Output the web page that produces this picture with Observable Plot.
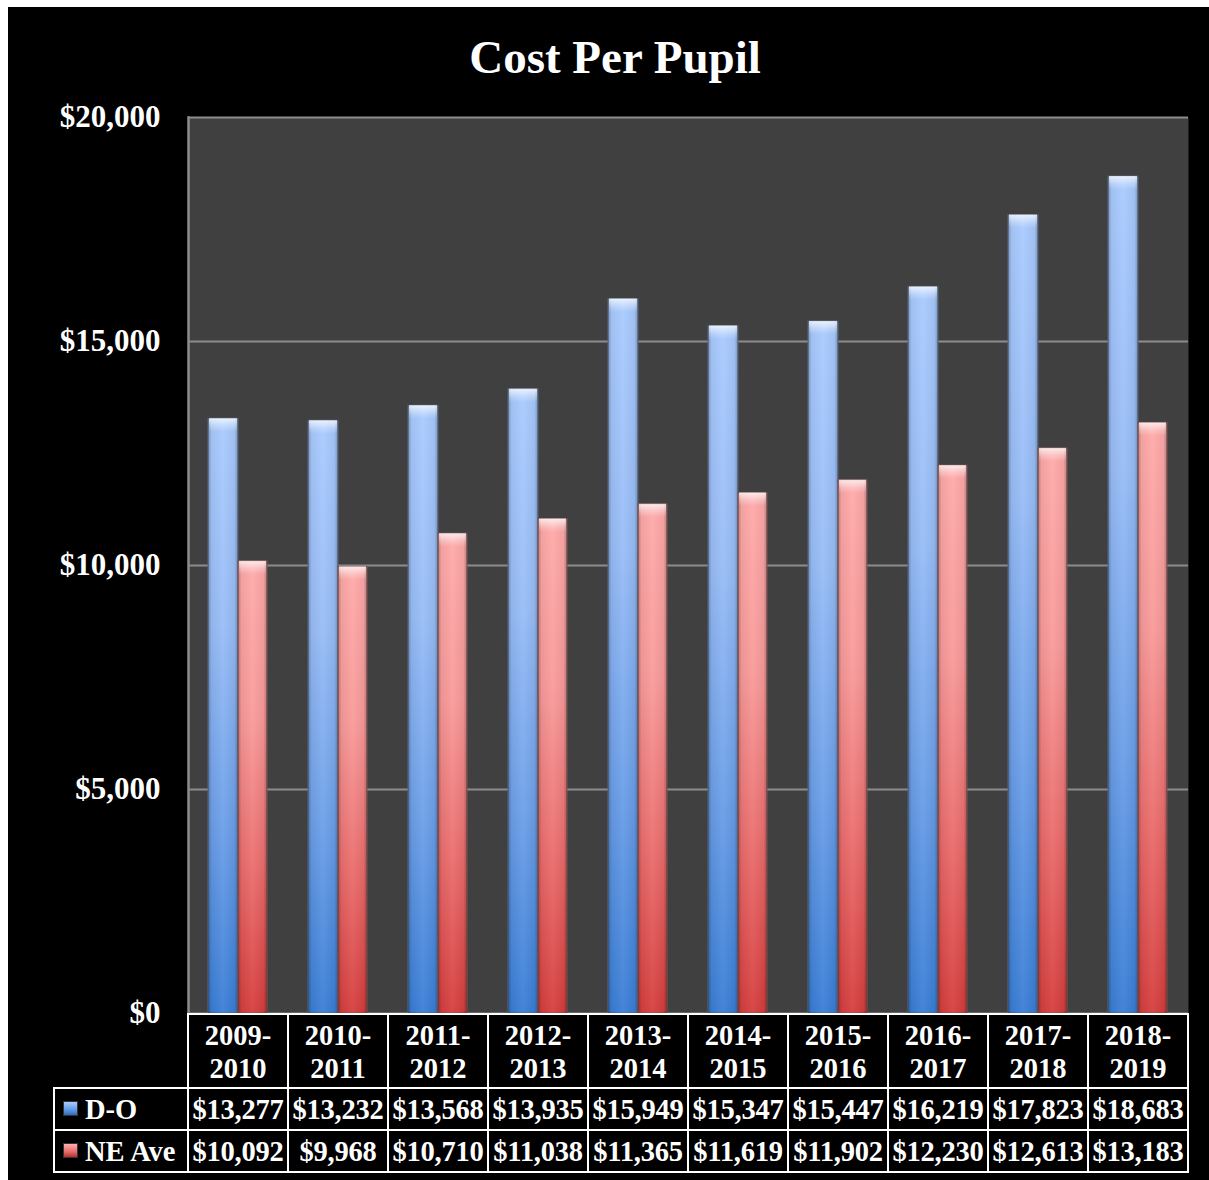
<!DOCTYPE html>
<html>
<head>
<meta charset="utf-8">
<script src="https://cdn.jsdelivr.net/npm/d3@7"></script>
<script src="https://cdn.jsdelivr.net/npm/@observablehq/plot@0.6"></script>
<style>
  html, body { margin: 0; padding: 0; background: #ffffff; overflow: hidden; }
  #stage { position: relative; width: 1209px; height: 1180px; }
  #bg { position: absolute; left: 8px; top: 7px; right: 0; bottom: 0; background: #000; }
  #title { position: absolute; left: 0; width: 1230px; top: 34px; text-align: center;
    font-family: "Liberation Serif", "Times New Roman", serif; font-weight: bold; font-size: 47px;
    line-height: 47px; color: #fff; white-space: nowrap; }
  .cell { position: absolute; box-sizing: border-box; border: 2px solid #fff; background: #000;
    color: #fff; font-family: "Liberation Serif", "Times New Roman", serif; font-weight: bold;
    font-size: 28.5px; text-align: center; white-space: nowrap; overflow: visible; }
  .hdr { line-height: 33px; padding-top: 4px; }
  .val { line-height: 40px; padding-top: 1px; letter-spacing: -0.2px; }
  .leg { text-align: left; line-height: 40px; padding-top: 1px; }
  .sw { position: absolute; left: 8px; width: 15px; height: 15px; box-sizing: border-box; border: 1px solid #333; }
</style>
</head>
<body>
<div id="stage">
  <div id="bg"></div>
  <div id="title"></div>
</div>
<script>
// ---- data ----
const title = "Cost Per Pupil";
const years = ["2009-2010","2010-2011","2011-2012","2012-2013","2013-2014","2014-2015","2015-2016","2016-2017","2017-2018","2018-2019"];
const seriesNames = ["D-O", "NE Ave"];
const doValues = [13277, 13232, 13568, 13935, 15949, 15347, 15447, 16219, 17823, 18683];
const neValues = [10092, 9968, 10710, 11038, 11365, 11619, 11902, 12230, 12613, 13183];
const yTicks = [0, 5000, 10000, 15000, 20000];

const rows = years.map((y, i) => ({year: y, do: doValues[i], ne: neValues[i]}));
const fmt = d => "$" + d3.format(",")(d);

document.getElementById("title").textContent = title;

const W = 1209, H = 1180;
const capUnits = 300; // highlight cap height in data units

const plot = Plot.plot({
  width: W,
  height: H,
  marginTop: 117,
  marginBottom: 167,
  marginLeft: 188,
  marginRight: 21,
  style: {background: "transparent", color: "#fff", fontFamily: "'Liberation Serif', 'Times New Roman', serif", overflow: "visible"},
  x: {domain: years, padding: 0, axis: null},
  y: {domain: [0, 20000], ticks: yTicks},
  marks: [
    Plot.frame({fill: "#404040"}),
    Plot.gridY(yTicks, {stroke: "#8c8c8c", strokeOpacity: 1, strokeWidth: 2}),
    Plot.frame({anchor: "left", stroke: "#8c8c8c", strokeWidth: 2.5}),
    // D-O bars
    Plot.barY(rows, {x: "year", y: "do", fill: "url(#gBlue)", stroke: "#55657a", strokeWidth: 1, insetLeft: 20, insetRight: 50}),
    Plot.barY(rows, {x: "year", y: "do", fill: "url(#gShade)", insetLeft: 20, insetRight: 50}),
    Plot.barY(rows, {x: "year", y1: d => d.do - capUnits, y2: "do", fill: "url(#gCap)", insetLeft: 21, insetRight: 51}),
    // NE Ave bars
    Plot.barY(rows, {x: "year", y: "ne", fill: "url(#gRed)", stroke: "#7a5555", strokeWidth: 1, insetLeft: 50, insetRight: 21}),
    Plot.barY(rows, {x: "year", y: "ne", fill: "url(#gShade)", insetLeft: 50, insetRight: 21}),
    Plot.barY(rows, {x: "year", y1: d => d.ne - capUnits, y2: "ne", fill: "url(#gCap)", insetLeft: 51, insetRight: 22}),
    Plot.axisY(yTicks, {
      tickSize: 0, tickPadding: 28, tickFormat: fmt,
      fontSize: 31, fontWeight: "bold", fill: "#fff", label: null
    })
  ]
});

plot.style.position = "absolute";
plot.style.left = "0px";
plot.style.top = "0px";

// gradients
const defs = d3.select(plot).insert("defs", ":first-child");
function vgrad(id, stops) {
  const g = defs.append("linearGradient").attr("id", id).attr("x1", 0).attr("y1", 0).attr("x2", 0).attr("y2", 1);
  stops.forEach(([o, c, a]) => g.append("stop").attr("offset", o).attr("stop-color", c).attr("stop-opacity", a == null ? 1 : a));
}
function hgrad(id, stops) {
  const g = defs.append("linearGradient").attr("id", id).attr("x1", 0).attr("y1", 0).attr("x2", 1).attr("y2", 0);
  stops.forEach(([o, c, a]) => g.append("stop").attr("offset", o).attr("stop-color", c).attr("stop-opacity", a == null ? 1 : a));
}
vgrad("gBlue", [[0, "#aacbff"], [0.35, "#98bdf7"], [0.7, "#6a9ee8"], [1, "#3a7ed6"]]);
vgrad("gRed", [[0, "#ffaaaa"], [0.35, "#f99a9a"], [0.7, "#ea6a6a"], [1, "#d63e3e"]]);
hgrad("gShade", [[0, "#000", 0.28], [0.12, "#000", 0.05], [0.5, "#fff", 0.05], [0.88, "#000", 0.05], [1, "#000", 0.28]]);
vgrad("gCap", [[0, "#ffffff", 0.75], [0.6, "#ffffff", 0.25], [1, "#ffffff", 0]]);

const stage = document.getElementById("stage");
stage.appendChild(plot);

// ---- data table below the plot ----
const xs = plot.scale("x");
const bw = xs.bandwidth;
const yBase = 1013;
const hdrH = 74, rowH = 42;

function cell(left, top, width, height, cls, html) {
  const d = document.createElement("div");
  d.className = "cell " + cls;
  d.style.left = left + "px";
  d.style.top = top + "px";
  d.style.width = width + "px";
  d.style.height = height + "px";
  d.innerHTML = html;
  stage.appendChild(d);
  return d;
}

years.forEach((yr, i) => {
  const x0 = xs.apply(yr);
  const parts = yr.split("-");
  cell(x0 - 1, yBase, bw + 2, hdrH + 2, "hdr", parts[0] + "-<br>" + parts[1]);
  cell(x0 - 1, yBase + hdrH, bw + 2, rowH + 2, "val", fmt(doValues[i]));
  cell(x0 - 1, yBase + hdrH + rowH, bw + 2, rowH + 2, "val", fmt(neValues[i]));
});

const legLeft = 53, legW = xs.apply(years[0]) - legLeft + 1;
const swatches = [
  "linear-gradient(to bottom, #a9ccff 0%, #5f98e6 60%, #2f6cc0 100%)",
  "linear-gradient(to bottom, #ffb0b0 0%, #e66a6a 60%, #b83030 100%)"
];
seriesNames.forEach((name, k) => {
  const c = cell(legLeft, yBase + hdrH + k * rowH, legW, rowH + 2, "leg", "");
  const sw = document.createElement("div");
  sw.className = "sw";
  sw.style.top = "12px";
  sw.style.background = swatches[k];
  c.appendChild(sw);
  const t = document.createElement("span");
  t.style.position = "absolute";
  t.style.left = "30px";
  t.textContent = name;
  c.appendChild(t);
});
</script>
</body>
</html>
